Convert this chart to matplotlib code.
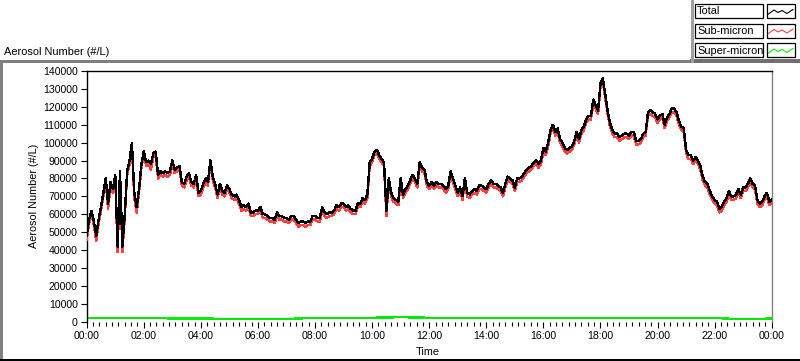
import numpy as np
import matplotlib
matplotlib.use("Agg")
import matplotlib.pyplot as plt
from matplotlib.ticker import MultipleLocator, FixedLocator, FixedFormatter
from matplotlib.lines import Line2D
from matplotlib.patches import Rectangle

plt.rcParams['font.family'] = ['Liberation Sans', 'DejaVu Sans']
plt.rcParams['font.size'] = 7.5

# ---- data (thousands of particles per litre, 5-minute readings over one day) ----
total_k = [
    48, 57, 62, 56, 48, 57, 64, 72, 80, 66, 78, 74, 82, 42, 84, 42, 60, 84, 90, 100, 72, 64, 74, 88,
    95, 89, 90, 88, 94, 95, 82, 84, 83, 84, 83, 84, 90, 85, 86, 87, 78, 77, 81, 83, 78, 77, 82, 72,
    73, 77, 80, 78, 90, 81, 77, 71, 77, 73, 72, 76, 74, 71, 70, 71, 68, 64, 65, 64, 66, 61, 61, 62,
    62, 64, 60, 60, 59, 58, 58, 57, 61, 59, 59, 58, 58, 57, 59, 59, 57, 55, 56, 56, 55, 56, 56, 59,
    59, 58, 58, 64, 61, 60, 61, 61, 62, 65, 64, 66, 66, 64, 65, 63, 62, 62, 66, 66, 69, 68, 71, 89,
    91, 95, 96, 93, 91, 89, 62, 80, 72, 69, 68, 67, 80, 71, 74, 76, 79, 82, 80, 77, 89, 86, 85, 78,
    76, 78, 76, 78, 77, 77, 76, 74, 76, 84, 80, 76, 72, 75, 70, 80, 72, 71, 73, 74, 73, 76, 76, 75,
    74, 77, 79, 77, 77, 76, 75, 72, 77, 81, 80, 79, 75, 80, 80, 81, 83, 85, 86, 87, 89, 90, 88, 90,
    97, 95, 100, 107, 110, 106, 108, 102, 100, 97, 96, 97, 98, 101, 106, 102, 107, 109, 113, 115, 115, 124, 121, 118,
    133, 136, 127, 118, 111, 107, 105, 105, 103, 104, 105, 105, 104, 106, 106, 101, 101, 102, 105, 106, 117, 118, 117, 116,
    113, 115, 116, 110, 114, 116, 119, 119, 117, 112, 109, 108, 96, 93, 93, 90, 92, 90, 87, 81, 78, 77, 73, 70,
    68, 67, 63, 64, 67, 69, 73, 70, 70, 71, 74, 71, 75, 75, 77, 80, 77, 76, 68, 66, 67, 70, 72, 67,
    68,
]

sub_micron_k = [
    46, 55, 60, 54, 45, 55, 62, 70, 78, 63, 76, 72, 80, 39, 82, 39, 58, 82, 88, 98, 69, 61, 72, 86,
    93, 87, 88, 85, 92, 93, 80, 82, 81, 82, 81, 82, 88, 83, 84, 85, 76, 75, 79, 81, 76, 75, 80, 70,
    71, 75, 78, 76, 88, 79, 75, 69, 75, 71, 70, 74, 72, 69, 68, 69, 66, 62, 63, 62, 64, 59, 59, 60,
    60, 62, 58, 58, 57, 56, 56, 55, 59, 57, 57, 56, 56, 55, 57, 57, 55, 53, 54, 54, 53, 54, 54, 57,
    57, 56, 56, 62, 59, 58, 59, 59, 60, 63, 62, 64, 64, 62, 63, 61, 60, 60, 64, 64, 67, 66, 69, 87,
    89, 93, 94, 91, 89, 87, 59, 78, 70, 67, 66, 65, 78, 69, 72, 74, 77, 80, 78, 75, 87, 84, 83, 76,
    74, 76, 74, 76, 75, 75, 74, 72, 74, 82, 78, 74, 70, 73, 68, 78, 70, 69, 71, 72, 71, 74, 74, 73,
    72, 75, 77, 75, 75, 74, 73, 70, 75, 79, 78, 77, 73, 78, 78, 79, 81, 83, 84, 85, 87, 88, 86, 88,
    95, 93, 98, 105, 108, 104, 106, 100, 98, 95, 94, 95, 96, 99, 104, 100, 105, 107, 111, 113, 113, 122, 119, 116,
    131, 134, 125, 116, 109, 105, 103, 103, 101, 102, 103, 103, 102, 104, 104, 99, 99, 100, 103, 104, 115, 116, 115, 114,
    111, 113, 114, 108, 112, 114, 117, 117, 115, 110, 107, 106, 94, 91, 91, 88, 90, 88, 85, 79, 76, 75, 71, 68,
    66, 65, 61, 62, 65, 67, 71, 68, 68, 69, 72, 69, 73, 73, 75, 78, 75, 74, 66, 64, 65, 68, 70, 65,
    66,
]

# hourly readings, particles per litre
super_micron = [2000, 2100, 1900, 1800, 1800, 1700, 1600, 1700, 1900, 2100, 2300, 2400, 2300,
                2200, 2200, 2100, 2200, 2100, 2000, 1900, 2000, 2000, 1900, 1600, 1800]

series_names = ["Total", "Sub-micron", "Super-micron"]
series_colors = ["#000000", "#ff4040", "#00ee00"]
y_ticks = list(range(0, 140001, 10000))
x_tick_hours = list(range(0, 25, 2))
x_tick_labels = ["00:00", "02:00", "04:00", "06:00", "08:00", "10:00", "12:00",
                 "14:00", "16:00", "18:00", "20:00", "22:00", "00:00"]

# ---- figure ----
W, H = 800, 361
fig = plt.figure(figsize=(W / 100, H / 100), dpi=100)
fig.patch.set_facecolor("white")

def fx(px):
    return px / W

def fy(py):
    return 1 - py / H

left_px, right_px, top_px, bot_px = 86.7, 771.7, 71.0, 321.7
ax = fig.add_axes([fx(left_px), fy(bot_px), fx(right_px - left_px), (bot_px - top_px) / H])

t_total = np.linspace(0, 24, len(total_k))
t_sub = np.linspace(0, 24, len(sub_micron_k))
t_super = np.linspace(0, 24, len(super_micron))

ax.plot(t_super, super_micron, color=series_colors[2], lw=0.8, antialiased=False, zorder=2)
ax.plot(t_sub, np.array(sub_micron_k) * 1000, color=series_colors[1], lw=1.0, antialiased=False, zorder=3)
ax.plot(t_total, np.array(total_k) * 1000, color=series_colors[0], lw=1.0, antialiased=False, zorder=4)

ax.set_xlim(0, 24)
ax.set_ylim(0, 140000)
ax.yaxis.set_major_locator(FixedLocator(y_ticks))
ax.yaxis.set_major_formatter(FixedFormatter([str(v) for v in y_ticks]))
ax.xaxis.set_major_locator(FixedLocator(x_tick_hours))
ax.xaxis.set_major_formatter(FixedFormatter(x_tick_labels))
ax.xaxis.set_minor_locator(MultipleLocator(2 / 9))

ax.tick_params(axis='y', direction='out', length=4.3, width=0.8, pad=2.2, labelsize=7.6, colors='black')
ax.tick_params(axis='x', which='major', direction='out', length=4.3, width=0.8, pad=2.5, labelsize=7.6)
ax.tick_params(axis='x', which='minor', direction='out', length=2.6, width=0.8)

ax.spines['top'].set_color('black')
ax.spines['left'].set_color('black')
ax.spines['right'].set_color('#808080')
ax.spines['bottom'].set_visible(False)
for s in ['top', 'left', 'right']:
    ax.spines[s].set_linewidth(1.0)
ax.set_facecolor('white')

# axis titles
fig.text(fx(34), fy(196), "Aerosol Number (#/L)", rotation=90, ha='center', va='center', fontsize=7.8)
fig.text(fx(428), fy(352), "Time", ha='center', va='center', fontsize=7.8)
fig.text(fx(3.5), fy(52), "Aerosol Number (#/L)", ha='left', va='center', fontsize=7.9)

# panel frame
def fline(x0, y0, x1, y1, color, lw=1.0):
    fig.add_artist(Line2D([fx(x0), fx(x1)], [fy(y0), fy(y1)], color=color, lw=lw,
                          transform=fig.transFigure, antialiased=False))

fline(0, 61, 692, 61, '#808080')
fline(692, 61, 800, 61, '#707070', lw=1.6)
fline(0.5, 61, 0.5, 361, '#808080')
fline(0, 360.3, 800, 360.3, '#000000')
fline(692, 0, 692, 61, '#a0a0a0')

# legend
box_tops = [4, 23.5, 43]
for name, color, ytop in zip(series_names, series_colors, box_tops):
    hbox = 14
    fig.add_artist(Rectangle((fx(695), fy(ytop + hbox)), fx(762.5 - 695), hbox / H,
                             transform=fig.transFigure, facecolor='white',
                             edgecolor='black', lw=0.9))
    fig.text(fx(697), fy(ytop + hbox / 2 + 0.5), name, ha='left', va='center', fontsize=7.9)
    fig.add_artist(Rectangle((fx(766.5), fy(ytop + hbox)), fx(795 - 766.5), hbox / H,
                             transform=fig.transFigure, facecolor='white',
                             edgecolor='black', lw=0.9))
    zx = [768.5, 774, 778, 782, 787, 793]
    zy = [ytop + 10, ytop + 6, ytop + 8.5, ytop + 6.5, ytop + 9.5, ytop + 5.5]
    fig.add_artist(Line2D([fx(v) for v in zx], [fy(v) for v in zy], color=color, lw=0.8,
                          transform=fig.transFigure))

fig.savefig("out.png", dpi=100)
